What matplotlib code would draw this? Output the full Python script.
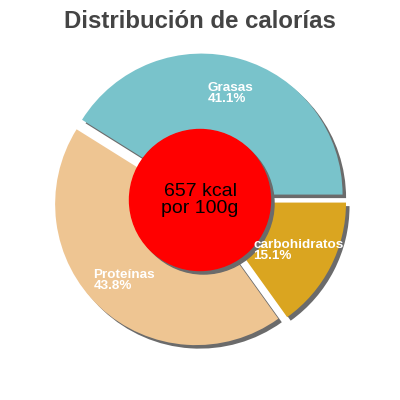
import matplotlib
matplotlib.use("Agg")
import matplotlib.pyplot as plt
import numpy as np

labels = ["Grasas", "Proteínas", "carbohidratos"]
values = [41.1, 43.8, 15.1]
colors = ["#79c3cb", "#eec592", "#daa520"]
center_text = "657 kcal\npor 100g"
title = "Distribución de calorías"

plt.rcParams['font.family'] = ['Liberation Sans', 'DejaVu Sans']

fig = plt.figure(figsize=(4, 4), dpi=100)
ax = fig.add_axes([0, 0, 1, 1])
lim = 200 / 141

explode = [0.04] * len(values)
off = 0.025
# shadow
ax.pie(values, explode=explode, colors=["#6b6b6b"] * len(values), startangle=0,
       counterclock=True, center=(off, -off), radius=1.0,
       wedgeprops=dict(linewidth=0), frame=True)
wedges, _ = ax.pie(values, explode=explode, colors=colors, startangle=0,
                   counterclock=True, radius=1.0,
                   wedgeprops=dict(linewidth=0), frame=True)
ax.set_aspect('equal')
ax.set_xlim(-lim, lim)
ax.set_ylim(-lim, lim)
ax.axis('off')

for w, lab, v in zip(wedges, labels, values):
    ang = np.deg2rad((w.theta1 + w.theta2) / 2)
    cx, cy = w.center
    r = 0.745
    ax.text(cx + r * np.cos(ang), cy + r * np.sin(ang), f"{lab}\n{v:.1f}%",
            ha='center', va='center', multialignment='left', color='white',
            fontsize=9.7, fontweight='bold', linespacing=0.95, zorder=8)

ax.add_patch(plt.Circle((off, -off), 0.5, color="#6b6b6b", zorder=5))
ax.add_patch(plt.Circle((0, 0), 0.5, color="#ff0000", zorder=6))
ax.text(0, 0, center_text, ha='center', va='center', fontsize=14, color='black',
        zorder=7, linespacing=1.0)

fig.text(0.5, 1 - 22 / 400, title, ha='center', va='center', fontsize=17.3,
         fontweight='bold', color='#444444')

fig.savefig("out.png", dpi=100)
